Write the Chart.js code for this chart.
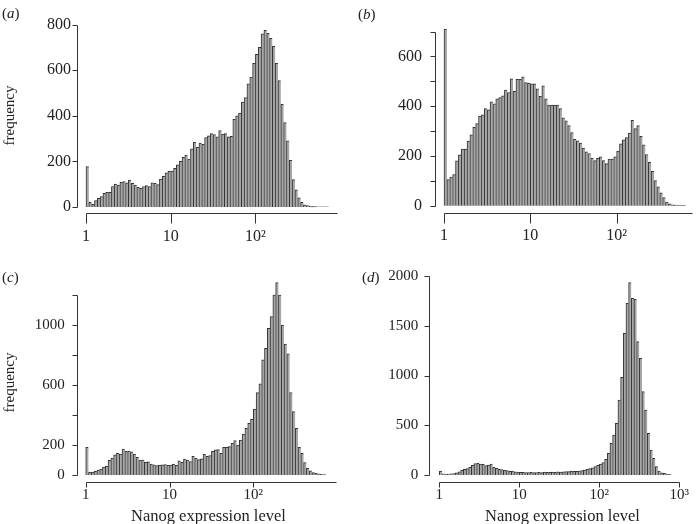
<!DOCTYPE html>
<html>
<head>
<meta charset="utf-8">
<script src="https://cdn.jsdelivr.net/npm/chart.js@4.4.0/dist/chart.umd.min.js"></script>
<style>
  body { margin: 0; background: #fff; width: 700px; height: 524px; overflow: hidden; position: relative; }
  canvas { position: absolute; left: 0; top: 0; }
  .lab { position: absolute; font-family: 'Liberation Serif', serif; font-size: 15px; color: #222; white-space: nowrap; }
  .xt { font-size: 16.5px; }
  .rot { transform: rotate(-90deg); transform-origin: center center; }
</style>
</head>
<body>
<canvas id="a" width="700" height="524"></canvas>
<canvas id="b" width="700" height="524"></canvas>
<canvas id="c" width="700" height="524"></canvas>
<canvas id="d" width="700" height="524"></canvas>

<div class="lab" style="left:2px;top:5px">(<i>a</i>)</div>
<div class="lab" style="left:358px;top:6px">(<i>b</i>)</div>
<div class="lab" style="left:2px;top:269px">(<i>c</i>)</div>
<div class="lab" style="left:362px;top:269px">(<i>d</i>)</div>
<div class="lab rot" style="left:-20px;top:107px">frequency</div>
<div class="lab rot" style="left:-20px;top:374px">frequency</div>
<div class="lab xt" style="left:131px;top:506px">Nanog expression level</div>
<div class="lab xt" style="left:485px;top:506px">Nanog expression level</div>

<script>
// histogram bins: equal width in log10(expression), first bin starts at 1
const binsPerDecade = 30;
const xTickLabels = ['1', '10', '10²', '10³'];

const freqA = [177, 20, 12, 28, 38, 46, 60, 64, 64, 90, 100, 96, 108, 112, 106, 118, 104, 96, 86, 82,
  90, 94, 90, 106, 104, 98, 122, 135, 150, 156, 158, 170, 185, 200, 218, 228, 210, 255, 285, 262,
  280, 275, 305, 312, 322, 318, 308, 335, 320, 322, 308, 310, 385, 400, 412, 460, 480, 540, 570, 630,
  670, 700, 760, 775, 762, 740, 705, 630, 555, 450, 370, 290, 205, 120, 75, 40, 20, 10, 6, 4,
  3, 2, 1, 1, 1, 1];

const freqB = [710, 105, 115, 125, 180, 205, 228, 228, 260, 285, 315, 330, 360, 365, 390, 385, 418, 410, 430, 435,
  442, 465, 455, 510, 460, 508, 508, 518, 495, 492, 490, 490, 470, 440, 482, 430, 405, 405, 405, 405,
  390, 353, 341, 322, 294, 267, 261, 252, 232, 217, 210, 190, 181, 190, 196, 181, 169, 187, 187, 196,
  220, 249, 265, 274, 292, 343, 310, 322, 279, 245, 206, 174, 138, 101, 76, 52, 33, 15, 8, 4,
  2, 1, 1, 1, 0, 0];

const freqC = [184, 20, 20, 25, 33, 40, 52, 60, 98, 112, 135, 144, 140, 172, 158, 160, 155, 140, 118, 100,
  100, 85, 88, 73, 67, 62, 66, 68, 70, 65, 66, 72, 64, 94, 84, 106, 100, 90, 125, 111,
  102, 108, 138, 124, 130, 158, 167, 170, 145, 184, 184, 189, 211, 229, 200, 233, 273, 311, 344, 371,
  440, 549, 607, 767, 844, 978, 1056, 1200, 1282, 1200, 1000, 873, 807, 549, 422, 311, 184, 144, 82, 44,
  27, 16, 11, 7, 5, 3];

const freqD = [38, 12, 10, 10, 12, 15, 22, 32, 48, 56, 64, 77, 97, 115, 117, 110, 108, 95, 100, 110,
  77, 67, 57, 55, 48, 44, 36, 40, 32, 30, 26, 28, 25, 24, 26, 24, 25, 28, 24, 30,
  26, 28, 30, 27, 32, 30, 33, 35, 34, 38, 37, 37, 40, 44, 50, 57, 64, 72, 84, 97,
  110, 124, 157, 218, 318, 402, 519, 754, 982, 1424, 1725, 1933, 1776, 1766, 1340, 1173, 838, 653, 419, 251,
  168, 84, 40, 23, 17, 10, 7];

const panels = [
  { id: 'a', freq: freqA, left: 86, pxPerDecade: 84.7, xMax: 2.96, top: 8, bottom: 207,
    yMax: 800, yStep: 200, yShown: [0, 200, 400, 600, 800], yAxisX: 77, xAxisY: 213,
    fontSize: 16, yPad: 15, xPad: 20, xTickLen: 10 },
  { id: 'b', freq: freqB, left: 444, pxPerDecade: 86.3, xMax: 2.87, top: 15, bottom: 205.7,
    yMax: 700, yStep: 100, yShown: [0, 200, 400, 600], yAxisX: 435, xAxisY: 213,
    fontSize: 16, yPad: 22, xPad: 20, xTickLen: 10 },
  { id: 'c', freq: freqC, left: 85.7, pxPerDecade: 83.8, xMax: 2.99, top: 295, bottom: 475,
    yMax: 1200, yStep: 200, yShown: [0, 200, 600, 1000], yAxisX: 77, xAxisY: 482,
    fontSize: 15, yPad: 21, xPad: 11, xTickLen: 5 },
  { id: 'd', freq: freqD, left: 439.3, pxPerDecade: 83, xMax: 3.0, top: 276, bottom: 475,
    yMax: 2000, yStep: 500, yShown: [0, 500, 1000, 1500, 2000], yAxisX: 429, xAxisY: 482,
    fontSize: 15, yPad: 21, xPad: 11, xTickLen: 5 }
];

// R-style detached axes, drawn from the chart's own scales
const rAxes = {
  id: 'rAxes',
  afterDraw(chart, args, o) {
    const { ctx, scales: { x, y } } = chart;
    const ax = Math.round(o.yAxisX) + 0.5;
    const ay = Math.round(o.xAxisY) + 0.5;
    ctx.save();
    ctx.strokeStyle = '#333';
    ctx.lineWidth = 1;
    ctx.beginPath();
    ctx.moveTo(ax, Math.round(y.getPixelForValue(0)) + 0.5);
    ctx.lineTo(ax, Math.round(y.getPixelForValue(o.yMax)) + 0.5);
    y.ticks.forEach(t => {
      const py = Math.round(y.getPixelForValue(t.value)) + 0.5;
      ctx.moveTo(ax - 5, py);
      ctx.lineTo(ax, py);
    });
    ctx.moveTo(Math.round(x.getPixelForValue(0)) + 0.5, ay);
    ctx.lineTo(Math.round(x.getPixelForValue(o.xMax)) + 0.5, ay);
    x.ticks.forEach(t => {
      const px = Math.round(x.getPixelForValue(t.value)) + 0.5;
      ctx.moveTo(px, ay);
      ctx.lineTo(px, ay + o.xTickLen);
    });
    ctx.stroke();
    ctx.restore();
  }
};

panels.forEach(p => {
  const right = p.left + p.xMax * p.pxPerDecade;
  const xH = 524 - p.bottom;
  const font = { family: "'Liberation Serif', serif", size: p.fontSize };
  new Chart(document.getElementById(p.id), {
    type: 'bar',
    data: {
      datasets: [{
        data: p.freq.map((v, i) => ({ x: (i + 0.5) / binsPerDecade, y: v })),
        backgroundColor: '#a6a6a6',
        borderColor: '#333',
        borderWidth: { top: 1, left: 1, right: 0, bottom: 0 },
        borderSkipped: false,
        barPercentage: 1,
        categoryPercentage: 1,
        clip: false
      }]
    },
    options: {
      responsive: false,
      animation: false,
      layout: { padding: { left: 0, top: p.top, right: 700 - right, bottom: 0 } },
      plugins: { legend: { display: false }, tooltip: { enabled: false }, rAxes: p },
      scales: {
        x: {
          type: 'linear', min: 0, max: p.xMax, offset: false,
          afterFit: s => { s.height = xH; },
          grid: { display: false, drawTicks: false },
          border: { display: false },
          ticks: {
            stepSize: 1, includeBounds: false, autoSkip: false, maxRotation: 0,
            padding: p.xPad, color: '#222', font,
            callback: v => xTickLabels[v] ?? ''
          }
        },
        y: {
          min: 0, max: p.yMax,
          afterFit: s => { s.width = p.left; },
          grid: { display: false, drawTicks: false },
          border: { display: false },
          ticks: {
            stepSize: p.yStep, includeBounds: false, padding: p.yPad, color: '#222', font,
            callback: v => p.yShown.includes(v) ? String(v) : ''
          }
        }
      }
    },
    plugins: [rAxes]
  });
});
</script>
</body>
</html>
